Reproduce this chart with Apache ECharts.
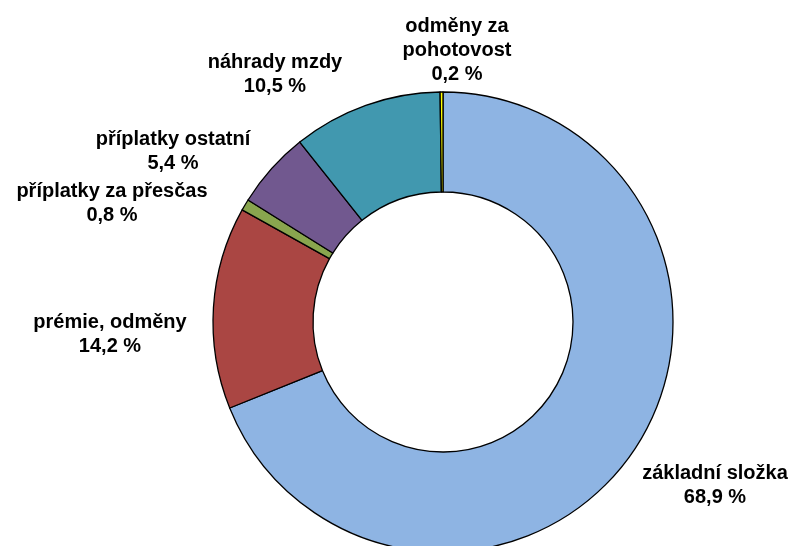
<!DOCTYPE html>
<html lang="cs">
<head>
    <meta charset="UTF-8">
    <title>Struktura mzdy</title>
    <script src="https://cdn.jsdelivr.net/npm/echarts@6/dist/echarts.min.js"></script>
    <style>
        html, body { margin: 0; padding: 0; background: #fff; }
        #main { width: 797px; height: 546px; }
    </style>
</head>
<body>
<div id="main"></div>
<script type="text/javascript">
    // kategorie a hodnoty (%), po směru hodin od 12 hodin
    var categories = ['základní složka', 'prémie, odměny', 'příplatky za přesčas', 'příplatky ostatní', 'náhrady mzdy', 'odměny za pohotovost'];
    var values = [68.9, 14.2, 0.8, 5.4, 10.5, 0.2];
    var colors = ['#8EB4E3', '#AA4643', '#89A54E', '#71588F', '#4198AF', '#FFFF00'];
    // středy popisků
    var labelPos = [[715, 485], [110, 334], [112, 203], [173, 151], [275, 74], [457, 50]];

    var myChart = echarts.init(document.getElementById('main'));
    var seriesData = categories.map(function (c, i) {
        return { name: c, value: values[i], itemStyle: { color: colors[i] } };
    });
    var option = {
        animation: false,
        series: [{
            type: 'pie',
            center: [443, 322],
            radius: [130, 230],
            startAngle: 90,
            clockwise: true,
            avoidLabelOverlap: false,
            itemStyle: { borderColor: '#000', borderWidth: 1.3 },
            label: {
                show: true,
                position: 'outside',
                color: '#000',
                fontFamily: 'Liberation Sans, Arial, sans-serif',
                fontWeight: 'bold',
                fontSize: 20,
                lineHeight: 24,
                align: 'center',
                formatter: function (p) {
                    var name = p.name;
                    if (name === 'odměny za pohotovost') name = 'odměny za\npohotovost';
                    return name + '\n' + p.value.toFixed(1).replace('.', ',') + ' %';
                }
            },
            labelLine: { show: false },
            labelLayout: function (params) {
                var p = labelPos[params.dataIndex];
                return { x: p[0], y: p[1], align: 'center', verticalAlign: 'middle', hideOverlap: false };
            },
            data: seriesData
        }]
    };
    myChart.setOption(option);
</script>
</body>
</html>
